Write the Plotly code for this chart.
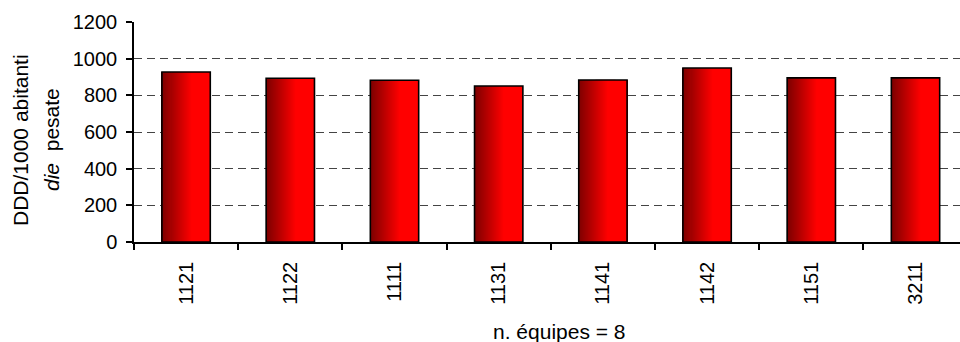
import plotly.graph_objects as go

# DDD per 1000 inhabitants per day, weighted, by team code
codes = ["1121", "1122", "1111", "1131", "1141", "1142", "1151", "3211"]
ddd_values = [927, 893, 882, 851, 884, 949, 895, 895]
y_ticks = [0, 200, 400, 600, 800, 1000, 1200]

FONT = "Liberation Sans"
BAR_W = 0.464          # bar width in category units
N_SLICES = 48          # vertical strips used to build the horizontal gradient
DARK = (122, 0, 0)
BRIGHT = (255, 0, 0)
RAMP_END = 0.62        # fraction of bar width where the colour reaches full red

# plot area in pixels (used to place the free-standing titles)
PLOT_L, PLOT_W = 134, 826
PLOT_B, PLOT_H = 242, 220


def ramp(t):
    f = min(t / RAMP_END, 1.0)
    r, g, b = (round(DARK[i] + (BRIGHT[i] - DARK[i]) * f) for i in range(3))
    return f"rgb({r},{g},{b})"


def px_x(px):
    return (px - PLOT_L) / PLOT_W


def px_y(py):
    return (PLOT_B - py) / PLOT_H


fig = go.Figure()

slice_w = BAR_W / N_SLICES
for k in range(N_SLICES):
    t = (k + 0.5) / N_SLICES
    fig.add_trace(go.Bar(
        x=codes, y=ddd_values,
        width=slice_w * 1.15,
        offset=-BAR_W / 2 + k * slice_w,
        marker=dict(color=ramp(t), line=dict(width=0)),
        showlegend=False, hoverinfo="skip",
    ))

# outline of each bar
fig.add_trace(go.Bar(
    x=codes, y=ddd_values,
    width=BAR_W, offset=-BAR_W / 2,
    marker=dict(color="rgba(0,0,0,0)", line=dict(color="black", width=1.6)),
    showlegend=False,
))

fig.update_layout(
    width=960, height=342,
    margin=dict(l=PLOT_L, r=960 - PLOT_L - PLOT_W, t=PLOT_B - PLOT_H,
                b=342 - PLOT_B, pad=0),
    paper_bgcolor="white", plot_bgcolor="white",
    barmode="overlay",
    font=dict(family=FONT, size=20, color="black"),
    showlegend=False,
)

fig.update_xaxes(
    type="category",
    range=[-0.5, 7.427],
    tickson="boundaries",
    ticks="outside", ticklen=6, tickwidth=1.5, tickcolor="black",
    tickangle=-90,
    ticklabelstandoff=10,
    showline=True, linecolor="black", linewidth=1.5,
    showgrid=False, zeroline=False,
    tickfont=dict(family=FONT, size=20),
)

fig.update_yaxes(
    range=[0, 1200],
    tickvals=y_ticks,
    ticks="outside", ticklen=6, tickwidth=1.5, tickcolor="black",
    ticklabelstandoff=5,
    showline=True, linecolor="black", linewidth=1.5,
    showgrid=True, gridcolor="#444444", gridwidth=1, griddash="8px,5px",
    zeroline=False,
    tickfont=dict(family=FONT, size=20),
)

# y-axis title, two rotated lines
fig.add_annotation(
    text="DDD/1000 abitanti",
    xref="paper", yref="paper", x=px_x(20), y=px_y(140),
    xanchor="center", yanchor="middle",
    textangle=-90, showarrow=False,
    font=dict(family=FONT, size=21),
)
fig.add_annotation(
    text="<i>die</i>\u00a0\u00a0pesate",
    xref="paper", yref="paper", x=px_x(51), y=px_y(140),
    xanchor="center", yanchor="middle",
    textangle=-90, showarrow=False,
    font=dict(family=FONT, size=21),
)

fig.add_annotation(
    text="n. équipes = 8",
    xref="paper", yref="paper", x=px_x(559), y=px_y(331),
    xanchor="center", yanchor="middle",
    showarrow=False,
    font=dict(family=FONT, size=21),
)

fig.write_html("out.html")
